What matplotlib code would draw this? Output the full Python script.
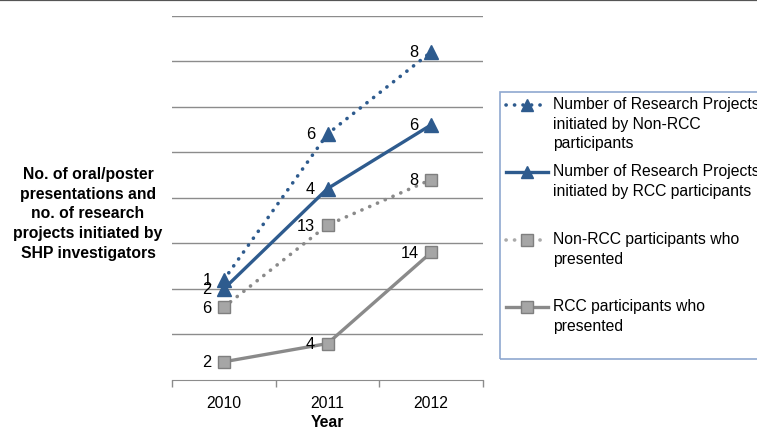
import numpy as np
import matplotlib
matplotlib.use("Agg")
import matplotlib.pyplot as plt
from matplotlib.lines import Line2D
from matplotlib.patches import Rectangle

plt.rcParams['font.family'] = ['Liberation Sans', 'DejaVu Sans']

years = ["2010", "2011", "2012"]

# serije odozdo prema gore (graf je stacked line)
rcc_presented = [2, 4, 14]
nonrcc_presented = [6, 13, 8]
rcc_projects = [2, 4, 6]
nonrcc_projects = [1, 6, 8]

series = [
    ("RCC participants who\npresented", rcc_presented, "gray", "-", "s"),
    ("Non-RCC participants who\npresented", nonrcc_presented, "gray", ":", "s"),
    ("Number of Research Projects\ninitiated by RCC participants", rcc_projects, "blue", "-", "^"),
    ("Number of Research Projects\ninitiated by Non-RCC\nparticipants", nonrcc_projects, "blue", ":", "^"),
]

boje = {"blue": ("#2E5B8E", "#2E5B8E", "#2E5B8E"),
        "gray": ("#8A8A8A", "#A6A6A6", "#7F7F7F")}

fs = 11.3

W, H = 757, 431
fig = plt.figure(figsize=(W / 100, H / 100), dpi=100)
ax = fig.add_axes([172 / W, 1 - 381 / H, (483 - 172) / W, (381 - 16.5) / H])

x = np.arange(len(years))
baza = np.zeros(len(years))
for ime, vals, boja, ls, mk in series:
    lc, mf, me = boje[boja]
    y = baza + np.array(vals)
    if ls == ":":
        ax.plot(x, y, color=lc, lw=2.6, linestyle=(0, (0.05, 2.3)),
                dash_capstyle="round", solid_capstyle="round", zorder=3)
    else:
        ax.plot(x, y, color=lc, lw=2.4, zorder=3)
    ax.plot(x, y, linestyle="none", marker=mk, ms=10 if mk == "^" else 9,
            mfc=mf, mec=me, mew=1, zorder=4)
    for xi, yi, v in zip(x, y, vals):
        ax.annotate(str(v), (xi, yi), xytext=(-9, 0), textcoords="offset points",
                    ha="right", va="center", fontsize=fs + 0.5, color="black", zorder=5)
    baza = y

ax.set_xlim(-0.5, 2.5)
ax.set_ylim(0, 40)
ax.set_yticks(np.arange(5, 41, 5))
ax.yaxis.grid(True, color="#8C8C8C", lw=1)
ax.tick_params(axis="y", length=0, labelleft=False)
ax.set_xticks(x)
ax.set_xticklabels(years, fontsize=fs)
ax.set_xticks([-0.5, 0.5, 1.5, 2.5], minor=True)
ax.tick_params(axis="x", which="major", length=0, pad=11)
ax.tick_params(axis="x", which="minor", length=5, color="#8C8C8C", width=1)
for s in ["top", "right", "left"]:
    ax.spines[s].set_visible(False)
ax.spines["bottom"].set_color("#8C8C8C")
ax.set_axisbelow(True)
ax.set_xlabel("Year", fontsize=fs, fontweight="bold", labelpad=3)

fig.text(88 / W, 1 - 214 / H,
         "No. of oral/poster\npresentations and\nno. of research\nprojects initiated by\nSHP investigators",
         ha="center", va="center", fontsize=fs, fontweight="bold", linespacing=1.39)

# legenda rucno
fig.add_artist(Rectangle((500 / W, 1 - 360 / H), 300 / W, (360 - 93) / H,
                         transform=fig.transFigure, fill=False, ec="#8FA8CF", lw=1.2))
leg_y = [106, 173, 241, 308]
for (ime, vals, boja, ls, mk), yy in zip(series[::-1], leg_y):
    lc, mf, me = boje[boja]
    yf = 1 - yy / H
    if ls == ":":
        fig.add_artist(Line2D([506 / W, 548 / W], [yf, yf], transform=fig.transFigure,
                              color=lc if boja == "blue" else "#AAAAAA", lw=2.6,
                              linestyle=(0, (0.05, 2.3)), dash_capstyle="round"))
    else:
        fig.add_artist(Line2D([506 / W, 548 / W], [yf, yf], transform=fig.transFigure,
                              color=lc, lw=2.4))
    fig.add_artist(Line2D([527 / W], [yf], transform=fig.transFigure, linestyle="none",
                          marker=mk, ms=8.5 if mk == "^" else 8, mfc=mf, mec=me, mew=1))
    fig.text(553 / W, yf + 9 / H, ime, ha="left", va="top", fontsize=fs,
             linespacing=1.39)

fig.add_artist(Line2D([0, 1], [1 - 0.8 / H, 1 - 0.8 / H], transform=fig.transFigure,
                      color="#555555", lw=1.6))

fig.savefig("out.png", dpi=100)
